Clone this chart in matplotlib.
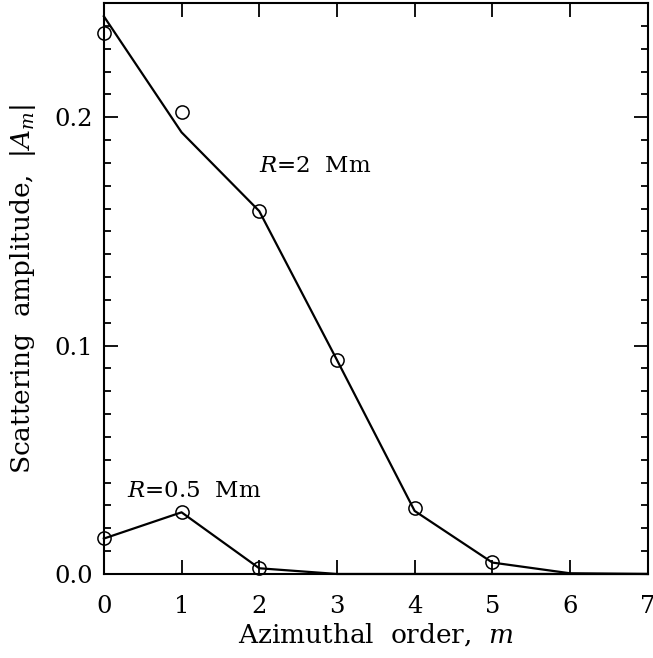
import matplotlib
matplotlib.use("Agg")
import matplotlib.pyplot as plt
from matplotlib.ticker import MultipleLocator

plt.rcParams['font.family'] = ['DejaVu Serif']
plt.rcParams['mathtext.fontset'] = 'dejavuserif'

# Data
m_all = [0, 1, 2, 3, 4, 5, 6, 7]
r2_model = [0.2442, 0.1934, 0.1589, 0.0937, 0.0276, 0.0050, 0.0003, 0.0]
r2_obs_m = [0, 1, 2, 3, 4, 5]
r2_obs = [0.2368, 0.2022, 0.1589, 0.0937, 0.0289, 0.0053]
r05_model = [0.0155, 0.0270, 0.0025, 0.0, 0.0, 0.0, 0.0, 0.0]
r05_obs_m = [0, 1, 2]
r05_obs = [0.0158, 0.0271, 0.0026]
x_ticks = [0, 1, 2, 3, 4, 5, 6, 7]
y_ticks = [0.0, 0.1, 0.2]
y_tick_labels = ['0.0', '0.1', '0.2']

fig = plt.figure(figsize=(6.53, 6.58), dpi=100)
ax = fig.add_axes([0.159, 0.1277, 0.833, 0.8677])

lw = 1.6
ax.plot(m_all, r2_model, color='black', lw=lw, clip_on=False)
ax.plot(m_all, r05_model, color='black', lw=lw, clip_on=False)
ax.plot(r2_obs_m, r2_obs, 'o', mfc='none', mec='black', ms=9.5, mew=1.1, clip_on=False)
ax.plot(r05_obs_m, r05_obs, 'o', mfc='none', mec='black', ms=9.5, mew=1.1, clip_on=False)

ax.text(2.0, 0.1785, r'$R$=2  Mm', fontsize=16.5, ha='left', va='center')
ax.text(0.3, 0.0365, r'$R$=0.5  Mm', fontsize=16.5, ha='left', va='center')

ax.set_xlim(0, 7)
ax.set_ylim(0, 0.25)
ax.set_xticks(x_ticks)
ax.set_xticklabels([str(v) for v in x_ticks])
ax.set_yticks(y_ticks)
ax.set_yticklabels(y_tick_labels)
ax.yaxis.set_minor_locator(MultipleLocator(0.01))

ax.tick_params(which='both', direction='in', top=True, right=True, width=1.3, labelsize=17.5)
ax.tick_params(which='major', length=10)
ax.tick_params(axis='x', which='major', pad=15)
ax.tick_params(axis='y', which='major', pad=8)
ax.tick_params(which='minor', length=5)
for s in ax.spines.values():
    s.set_linewidth(1.5)

ax.set_xlabel(r'Azimuthal  order,  $m$', fontsize=19, labelpad=2)
ax.set_ylabel(r'Scattering  amplitude,  $|A_m|$', fontsize=19, labelpad=6)
ax.yaxis.set_label_coords(-0.121, 0.5)

fig.savefig('out.png', dpi=100)
